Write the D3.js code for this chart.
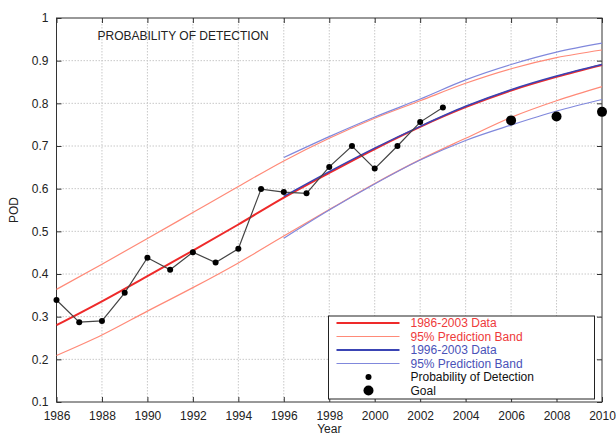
<!DOCTYPE html>
<html>
<head>
<meta charset="utf-8">
<script src="https://cdn.jsdelivr.net/npm/d3@7"></script>
<style>
  body { margin: 0; background: #fff; }
  svg { font-family: "Liberation Sans", Arial, sans-serif; }
</style>
</head>
<body>
<div id="app"></div>
<script>
// observed probability of detection, 1986-2003
const podYears = d3.range(1986, 2004)
const podValues = [0.339, 0.287, 0.290, 0.356, 0.438, 0.410, 0.451, 0.427, 0.459,
                   0.599, 0.592, 0.589, 0.651, 0.700, 0.647, 0.700, 0.756, 0.790]

// goals
const goalYears = [2006, 2008, 2010]
const goalValues = [0.760, 0.769, 0.780]

// 1986-2003 fit and 95% band
const redYears = d3.range(1986, 2011, 2)
const redFit   = [0.280, 0.336, 0.395, 0.455, 0.516, 0.579, 0.637, 0.693, 0.745, 0.791, 0.830, 0.862, 0.890]
const redUpper = [0.364, 0.423, 0.483, 0.544, 0.605, 0.665, 0.718, 0.765, 0.806, 0.847, 0.881, 0.907, 0.925]
const redLower = [0.209, 0.257, 0.313, 0.368, 0.426, 0.489, 0.551, 0.612, 0.668, 0.718, 0.767, 0.806, 0.839]

// 1996-2003 fit and 95% band
const blueYears = d3.range(1996, 2011, 2)
const blueFit   = [0.582, 0.640, 0.695, 0.746, 0.793, 0.832, 0.864, 0.891]
const blueUpper = [0.673, 0.722, 0.768, 0.810, 0.855, 0.891, 0.920, 0.941]
const blueLower = [0.484, 0.550, 0.611, 0.667, 0.713, 0.749, 0.782, 0.809]

const xTicks = d3.range(1986, 2011, 2)
const yTicks = [0.1, 0.2, 0.3, 0.4, 0.5, 0.6, 0.7, 0.8, 0.9, 1]

const legendItems = [
    { label: "1986-2003 Data", color: "#ee2a2a", text: "#ee3a3a", width: 2, type: "line" },
    { label: "95% Prediction Band", color: "#ff8a78", text: "#ee3a3a", width: 1.2, type: "line" },
    { label: "1996-2003 Data", color: "#3a44b4", text: "#4a52b8", width: 2, type: "line" },
    { label: "95% Prediction Band", color: "#8088dc", text: "#4a52b8", width: 1.2, type: "line" },
    { label: "Probability of Detection", color: "#000", text: "#111", r: 3, type: "dot" },
    { label: "Goal", color: "#000", text: "#111", r: 5, type: "dot" }
]

const W = 616, H = 436
const margin = { left: 56.5, top: 18, right: 14, bottom: 34 }
const width = W - margin.left - margin.right
const height = H - margin.top - margin.bottom

const svg = d3.select('#app').append('svg')
    .attr('width', W)
    .attr('height', H)

const g = svg.append('g')
    .attr('transform', `translate(${margin.left},${margin.top})`)

const xScale = d3.scaleLinear().domain([1986, 2010]).range([0, width])
const yScale = d3.scaleLinear().domain([0.1, 1]).range([height, 0])

// grid
g.append('g').selectAll('line')
    .data(xTicks.slice(1, -1))
    .enter().append('line')
    .attr('x1', d => xScale(d)).attr('x2', d => xScale(d))
    .attr('y1', 0).attr('y2', height)
    .attr('stroke', '#c8c8c8').attr('stroke-dasharray', '1.5,1.5')
g.append('g').selectAll('line')
    .data(yTicks.slice(1, -1))
    .enter().append('line')
    .attr('y1', d => yScale(d)).attr('y2', d => yScale(d))
    .attr('x1', 0).attr('x2', width)
    .attr('stroke', '#c8c8c8').attr('stroke-dasharray', '1.5,1.5')

// axes with inward ticks
const axisStyle = sel => {
    sel.select('.domain').remove()
    sel.selectAll('line').attr('stroke', '#333')
    sel.selectAll('text').attr('fill', '#222').style('font-size', '12px')
}
g.append('g')
    .attr('transform', `translate(0,${height})`)
    .call(d3.axisBottom(xScale).tickValues(xTicks).tickFormat(d3.format('d')).tickSizeInner(-5).tickPadding(9))
    .call(axisStyle)
g.append('g')
    .call(d3.axisLeft(yScale).tickValues(yTicks).tickFormat(d => d === 1 ? '1' : d3.format('.1f')(d)).tickSizeInner(-5).tickPadding(8))
    .call(axisStyle)
g.append('g')
    .call(d3.axisTop(xScale).tickValues(xTicks).tickFormat('').tickSizeInner(-5))
    .call(axisStyle)
g.append('g')
    .attr('transform', `translate(${width},0)`)
    .call(d3.axisRight(yScale).tickValues(yTicks).tickFormat('').tickSizeInner(-5))
    .call(axisStyle)

g.append('rect')
    .attr('width', width).attr('height', height)
    .attr('fill', 'none').attr('stroke', '#333').attr('stroke-width', 1)

const line = d3.line()
    .x(d => xScale(d[0]))
    .y(d => yScale(d[1]))
    .curve(d3.curveMonotoneX)

const drawCurve = (years, values, color, w) => {
    g.append('path')
        .datum(years.map((y, i) => [y, values[i]]))
        .attr('d', line)
        .attr('fill', 'none')
        .attr('stroke', color)
        .attr('stroke-width', w)
}

drawCurve(redYears, redUpper, legendItems[1].color, 1.2)
drawCurve(redYears, redLower, legendItems[1].color, 1.2)
drawCurve(redYears, redFit, legendItems[0].color, 2)
drawCurve(blueYears, blueUpper, legendItems[3].color, 1.2)
drawCurve(blueYears, blueLower, legendItems[3].color, 1.2)
drawCurve(blueYears, blueFit, legendItems[2].color, 1.6)

// observed data
const podData = podYears.map((y, i) => [y, podValues[i]])
g.append('path')
    .datum(podData)
    .attr('d', d3.line().x(d => xScale(d[0])).y(d => yScale(d[1])))
    .attr('fill', 'none')
    .attr('stroke', '#444')
    .attr('stroke-width', 1.2)
g.selectAll('.pod')
    .data(podData)
    .enter().append('circle')
    .attr('class', 'pod')
    .attr('cx', d => xScale(d[0]))
    .attr('cy', d => yScale(d[1]))
    .attr('r', 3)
    .attr('fill', '#000')

g.selectAll('.goal')
    .data(goalYears.map((y, i) => [y, goalValues[i]]))
    .enter().append('circle')
    .attr('class', 'goal')
    .attr('cx', d => xScale(d[0]))
    .attr('cy', d => yScale(d[1]))
    .attr('r', 5)
    .attr('fill', '#000')

// title
g.append('text')
    .attr('x', 41).attr('y', 22)
    .attr('fill', '#222')
    .style('font-size', '12px')
    .text('PROBABILITY OF DETECTION')

// axis titles
svg.append('text')
    .attr('x', margin.left + width / 2).attr('y', 433)
    .attr('text-anchor', 'middle')
    .attr('fill', '#222')
    .style('font-size', '12px')
    .text('Year')
svg.append('text')
    .attr('transform', `translate(18,${margin.top + height / 2}) rotate(-90)`)
    .attr('text-anchor', 'middle')
    .attr('fill', '#222')
    .style('font-size', '12px')
    .text('POD')

// legend
const legend = svg.append('g').attr('transform', 'translate(328.5,316)')
legend.append('rect')
    .attr('width', 266).attr('height', 83)
    .attr('fill', '#fff').attr('stroke', '#222').attr('stroke-width', 1)
const rows = legend.selectAll('.row')
    .data(legendItems)
    .enter().append('g')
    .attr('transform', (d, i) => `translate(0,${7 + i * 13.5})`)
rows.filter(d => d.type === 'line').append('line')
    .attr('x1', 8).attr('x2', 71)
    .attr('stroke', d => d.color)
    .attr('stroke-width', d => d.width)
rows.filter(d => d.type === 'dot').append('circle')
    .attr('cx', 40).attr('r', d => d.r)
    .attr('fill', d => d.color)
rows.append('text')
    .attr('x', 82).attr('dy', '0.36em')
    .attr('fill', d => d.text)
    .style('font-size', '12px')
    .text(d => d.label)
</script>
</body>
</html>
